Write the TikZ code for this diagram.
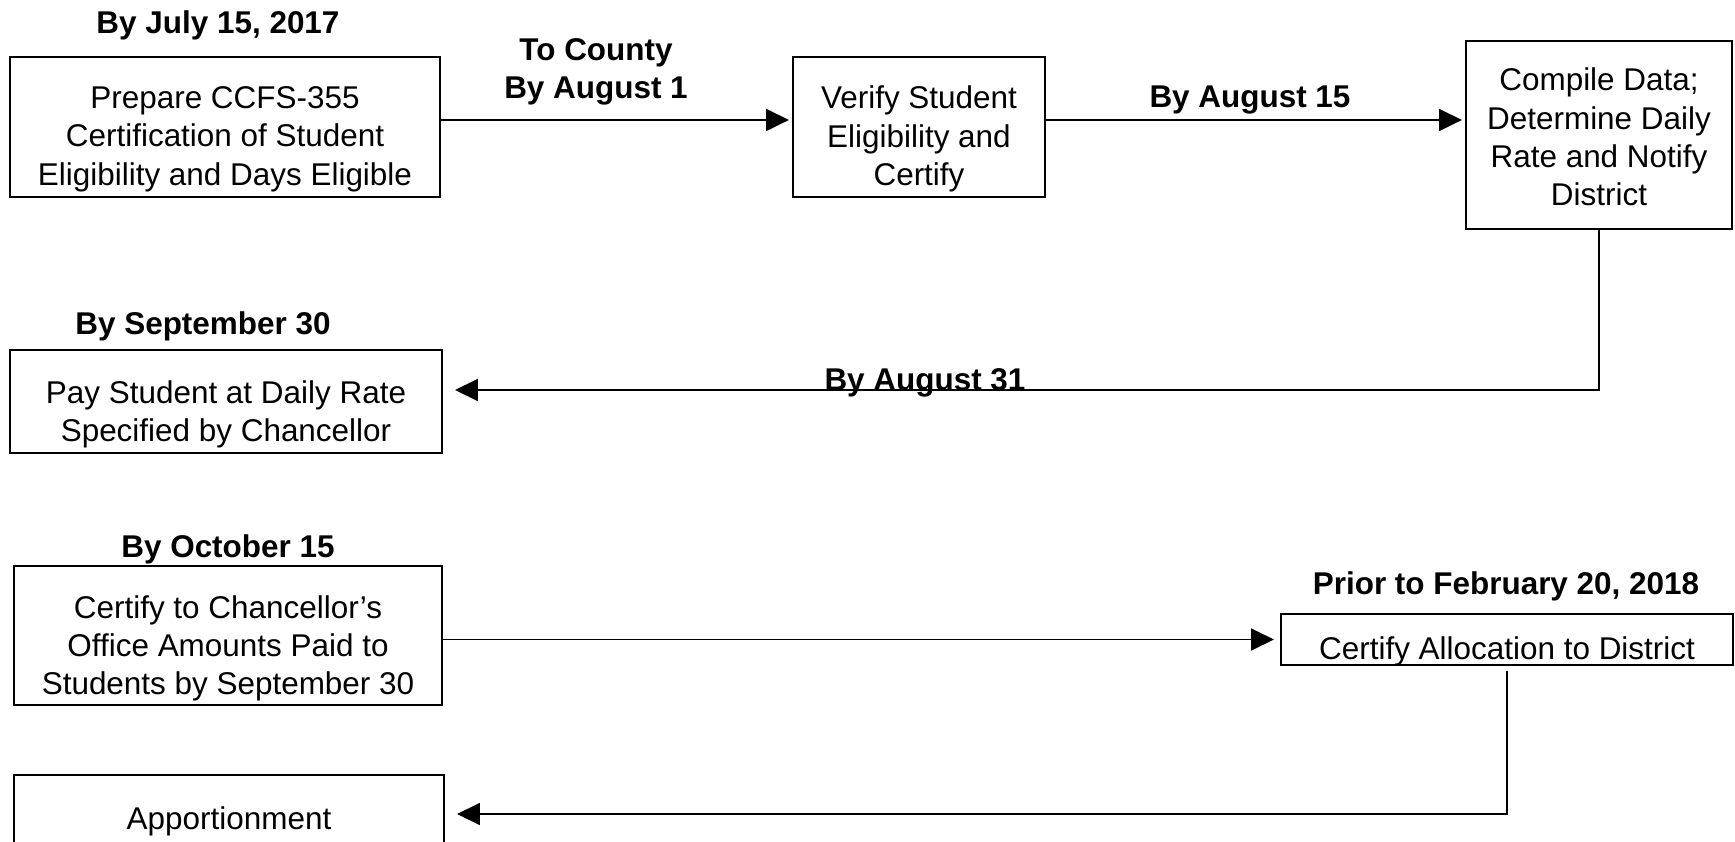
\documentclass[tikz,border=0pt]{standalone}
\usepackage{fontspec}
\setmainfont{Liberation Sans}
\usetikzlibrary{arrows.meta}

\begin{document}
\begin{tikzpicture}[x=0.02cm, y=-0.02cm,
    main/.style = {draw, line width=1.3pt, inner sep=0pt},
    words/.style = {align=center, inner sep=0pt, font=\fontsize{17.9}{21.8}\selectfont},
    when/.style = {align=center, inner sep=0pt, font=\bfseries\fontsize{17.9}{21.8}\selectfont},
    flow/.style = {line width=1.1pt, -{Triangle[length=13pt, width=12.5pt]}}]

    \useasboundingbox (0,0) rectangle (1735,842);
    \clip (0,0) rectangle (1735,842);

    % boxes
    \node[main, minimum width=8.6cm, minimum height=2.8cm] (P) at (225,127) {};
    \node[main, minimum width=5.04cm, minimum height=2.8cm] (V) at (919,127) {};
    \node[main, minimum width=5.32cm, minimum height=3.76cm] (C) at (1599,135) {};
    \node[main, minimum width=8.64cm, minimum height=2.06cm] (D) at (226,401.5) {};
    \node[main, minimum width=8.56cm, minimum height=2.78cm] (E) at (228,635.5) {};
    \node[main, minimum width=9.04cm, minimum height=1.02cm] (F) at (1507,639.5) {};
    \node[main, minimum width=8.6cm, minimum height=2.2cm] (G) at (229,830) {};

    % box texts
    \node[words] (Pt) at (225,139) {Prepare CCFS-355\\Certification of Student\\Eligibility and Days Eligible};
    \node[words] (Vt) at (919,139) {Verify Student\\Eligibility and\\Certify};
    \node[words] (Ct) at (1599,137) {Compile Data;\\Determine Daily\\Rate and Notify\\District};
    \node[words] (Dt) at (226,414.5) {Pay Student at Daily Rate\\Specified by Chancellor};
    \node[words] (Et) at (228,648.5) {Certify to Chancellor’s\\Office Amounts Paid to\\Students by September 30};
    \node[words] (Ft) at (1507,651) {Certify Allocation to District};
    \node[words] (Gt) at (229,821) {Apportionment};

    % dates
    \node[when] (T1) at (218,25) {By July 15, 2017};
    \node[when] (T2) at (596,72) {To County\\By August 1};
    \node[when] (T3) at (1250,100) {By August 15};
    \node[when] (T4) at (203,326) {By September 30};
    \node[when] (T5) at (228,549) {By October 15};
    \node[when] (T6) at (1506,586) {Prior to February 20, 2018};
    \node[when, anchor=base] (T7) at (925,390) {By August 31};

    \coordinate (cbend) at (1599,390);
    \coordinate (fbend) at (1507,814);

    \draw[flow, shorten >=1.7pt] ([yshift=4pt]P.east) coordinate (p) -- (p -| V.west);
    \draw[flow, shorten >=1.7pt] ([yshift=4pt]V.east) coordinate (v) -- (v -| C.west);
    \draw[flow, shorten >=6.8pt] (C.south) -- (cbend) -- (D.east |- cbend);
    \draw[flow, shorten >=3.4pt] (E.east |- F.west) -- (F.west);
    \draw[flow, shorten >=6.8pt, shorten <=2.5pt] (F.south) -- (fbend) -- (G.east |- fbend);
\end{tikzpicture}
\end{document}
